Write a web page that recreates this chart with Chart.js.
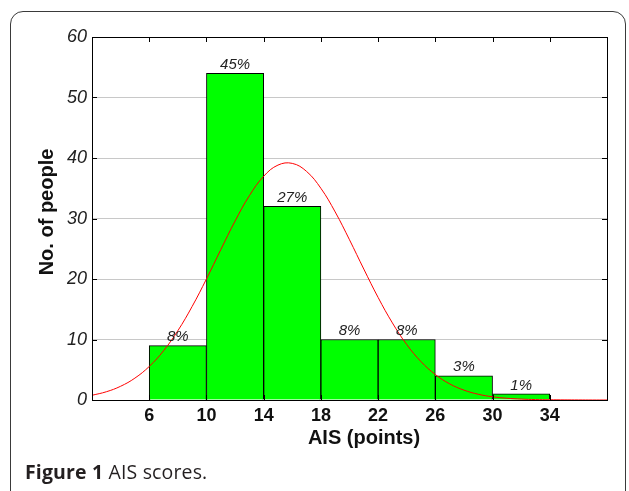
<!DOCTYPE html>
<html><head><meta charset="utf-8">
<script src="https://cdn.jsdelivr.net/npm/chart.js@4"></script>
<style>
html,body{margin:0;padding:0;background:#fff;}
#wrap{position:relative;width:629px;height:491px;overflow:hidden;}
#card{position:absolute;left:10px;top:11px;width:616px;height:520px;border:1.5px solid #3a3a3a;border-radius:13px;box-sizing:border-box;}
#cap{position:absolute;left:25px;top:458px;font-family:"Open Sans";font-size:19.5px;color:#231f20;white-space:nowrap;letter-spacing:0.15px;}
#cap b{font-weight:700;}
canvas{position:absolute;left:0;top:0;}
</style></head>
<body><div id="wrap"><div id="card"></div><canvas id="c" width="629" height="491"></canvas><div id="cap"><b>Figure 1</b> AIS scores.</div></div>
<script>
// Histogram bins (centres of 4-point-wide bins) and counts
const binCenters = [8, 12, 16, 20, 24, 28, 32];
const counts = [9, 54, 32, 10, 10, 4, 1];
const pctLabels = ["8%", "45%", "27%", "8%", "8%", "3%", "1%"];
// Fitted normal curve
const curveX = [2,3,4,5,6,7,8,9,10,11,12,13,14,15,16,17,18,19,20,21,22,23,24,25,26,27,28,29,30,31,32,33,34,35,36,37,38];
const curveY = [0.78,1.36,2.27,3.62,5.54,8.13,11.45,15.46,20.0,24.84,29.57,33.77,36.98,38.83,39.11,37.78,34.99,31.08,26.48,21.64,16.95,12.74,9.17,6.34,4.21,2.67,1.63,0.95,0.53,0.29,0.15,0.07,0.04,0.02,0.01,0,0];
const xTicks = [6, 10, 14, 18, 22, 26, 30, 34];
const yTicks = [0, 10, 20, 30, 40, 50, 60];
const xTitle = "AIS (points)";
const yTitle = "No. of people";

const SANS = "'Liberation Sans', Arial, Helvetica, sans-serif";

const decor = {
  id: 'decor',
  afterDatasetsDraw(chart) {
    const ctx = chart.ctx, a = chart.chartArea;
    const xs = chart.scales.x, ys = chart.scales.y;
    ctx.save();
    // frame
    ctx.strokeStyle = '#000';
    ctx.lineWidth = 1;
    ctx.strokeRect(Math.round(a.left) + 0.5, Math.round(a.top) + 0.5, Math.round(a.right - a.left), Math.round(a.bottom - a.top));
    // inward ticks
    ctx.beginPath();
    xTicks.forEach(v => {
      const px = Math.round(xs.getPixelForValue(v)) + 0.5;
      ctx.moveTo(px, a.top); ctx.lineTo(px, a.top + 5);
      ctx.moveTo(px, a.bottom); ctx.lineTo(px, a.bottom - 5);
    });
    yTicks.slice(1, -1).forEach(v => {
      const py = Math.round(ys.getPixelForValue(v)) + 0.5;
      ctx.moveTo(a.left, py); ctx.lineTo(a.left + 5, py);
      ctx.moveTo(a.right, py); ctx.lineTo(a.right - 5, py);
    });
    ctx.stroke();
    // bar labels
    const meta = chart.getDatasetMeta(1);
    ctx.fillStyle = '#222';
    ctx.font = "italic 15px " + SANS;
    ctx.textAlign = 'center';
    ctx.textBaseline = 'bottom';
    meta.data.forEach((el, i) => {
      ctx.fillText(pctLabels[i], el.x, el.y - 1);
    });
    // axis titles
    ctx.fillStyle = '#111';
    ctx.font = "bold 20px " + SANS;
    ctx.textBaseline = 'middle';
    ctx.fillText(xTitle, 364, 438);
    ctx.translate(47, 212);
    ctx.rotate(-Math.PI / 2);
    ctx.fillText(yTitle, 0, 0);
    ctx.restore();
  }
};

new Chart(document.getElementById('c'), {
  data: {
    datasets: [
      {
        type: 'line', order: 0,
        data: curveX.map((x, i) => ({ x, y: curveY[i] })),
        borderColor: '#ff0000', borderWidth: 1, pointRadius: 0, tension: 0.4, fill: false
      },
      {
        type: 'bar', order: 1,
        data: binCenters.map((x, i) => ({ x, y: counts[i] })),
        backgroundColor: '#00ff00', borderColor: '#000', borderWidth: 1,
        barPercentage: 1, categoryPercentage: 1
      }
    ]
  },
  options: {
    responsive: false, animation: false,
    layout: { padding: { left: 0, top: 37, right: 22, bottom: 51 } },
    plugins: { legend: { display: false }, tooltip: { enabled: false } },
    scales: {
      x: {
        type: 'linear', min: 2, max: 38, offset: false,
        afterBuildTicks: s => { s.ticks = xTicks.map(v => ({ value: v })); },
        afterFit: s => { s.height = 40; },
        grid: { display: false, drawTicks: false, offset: false },
        border: { display: true, color: '#000' },
        ticks: { color: '#111', font: { family: SANS, size: 18, weight: 'bold' }, padding: 5, maxRotation: 0, autoSkip: false }
      },
      y: {
        min: 0, max: 60,
        afterBuildTicks: s => { s.ticks = yTicks.map(v => ({ value: v })); },
        afterFit: s => { s.width = 92; },
        grid: { color: '#c8c8c8', drawTicks: false },
        border: { display: true, color: '#000' },
        ticks: { color: '#222', font: { family: SANS, size: 18, style: 'italic' }, padding: 5 }
      }
    }
  },
  plugins: [decor]
});
</script>
</body></html>
